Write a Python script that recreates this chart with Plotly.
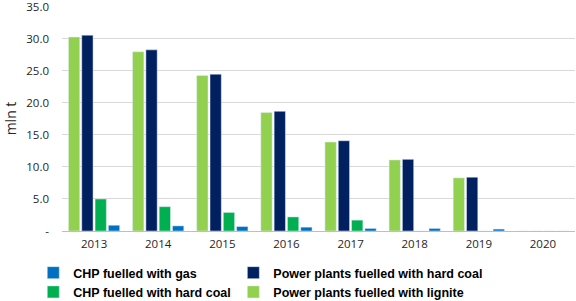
import plotly.graph_objects as go

years = ["2013", "2014", "2015", "2016", "2017", "2018", "2019", "2020"]
lignite = [30.3, 28.0, 24.3, 18.5, 13.9, 11.1, 8.3, 0]
hard_coal_pp = [30.6, 28.3, 24.5, 18.7, 14.1, 11.2, 8.4, 0]
chp_hard_coal = [5.0, 3.8, 2.9, 2.2, 1.7, 0, 0, 0]
chp_gas = [0.9, 0.8, 0.7, 0.6, 0.4, 0.4, 0.3, 0]

y_ticks = [0, 5, 10, 15, 20, 25, 30, 35]
y_ticktext = ["-", "5.0", "10.0", "15.0", "20.0", "25.0", "30.0", "35.0"]

fig = go.Figure()
fig.add_trace(go.Bar(x=years, y=lignite, name="Power plants fuelled with lignite",
                     marker_color="#92D050", legend="legend2"))
fig.add_trace(go.Bar(x=years, y=hard_coal_pp, name="Power plants fuelled with hard coal",
                     marker_color="#002060", legend="legend2"))
fig.add_trace(go.Bar(x=years, y=chp_hard_coal, name="CHP fuelled with hard coal",
                     marker_color="#00B050", legend="legend"))
fig.add_trace(go.Bar(x=years, y=chp_gas, name="CHP fuelled with gas",
                     marker_color="#0070C0", legend="legend"))

legend_font = dict(family="Liberation Sans, Arial", size=12.5, color="#000000", weight="bold")
fig.update_layout(
    width=576, height=301,
    margin=dict(l=62, r=1, t=6, b=70, autoexpand=False),
    paper_bgcolor="white", plot_bgcolor="white",
    barmode="group", bargap=0.17, bargroupgap=0.15,
    font=dict(family="Open Sans, Noto Sans, sans-serif", size=11.5, color="#262626"),
    xaxis=dict(showgrid=False, ticks="", showline=False, zeroline=False,
               tickfont=dict(size=11.5), ticklabelstandoff=4),
    yaxis=dict(range=[0, 35.15], tickvals=y_ticks, ticktext=y_ticktext,
               showgrid=True, gridcolor="#D9D9D9", gridwidth=1,
               zeroline=True, zerolinecolor="#BFBFBF", zerolinewidth=1,
               showline=False, ticks="", ticklabelstandoff=12,
               ticklabeloverflow="allow",
               title=dict(text="mln t", font=dict(size=14), standoff=6)),
    legend=dict(x=-0.056, y=-0.12, xanchor="left", yanchor="top",
                orientation="v", traceorder="reversed", font=legend_font,
                bgcolor="rgba(0,0,0,0)", itemwidth=30, tracegroupgap=0),
    legend2=dict(x=0.334, y=-0.12, xanchor="left", yanchor="top",
                 orientation="v", traceorder="reversed", font=legend_font,
                 bgcolor="rgba(0,0,0,0)", itemwidth=30, tracegroupgap=0),
)

fig.write_html("out.html",
               config={"displayModeBar": False},
               post_script="document.body.style.margin='0';document.body.style.overflow='hidden';")
